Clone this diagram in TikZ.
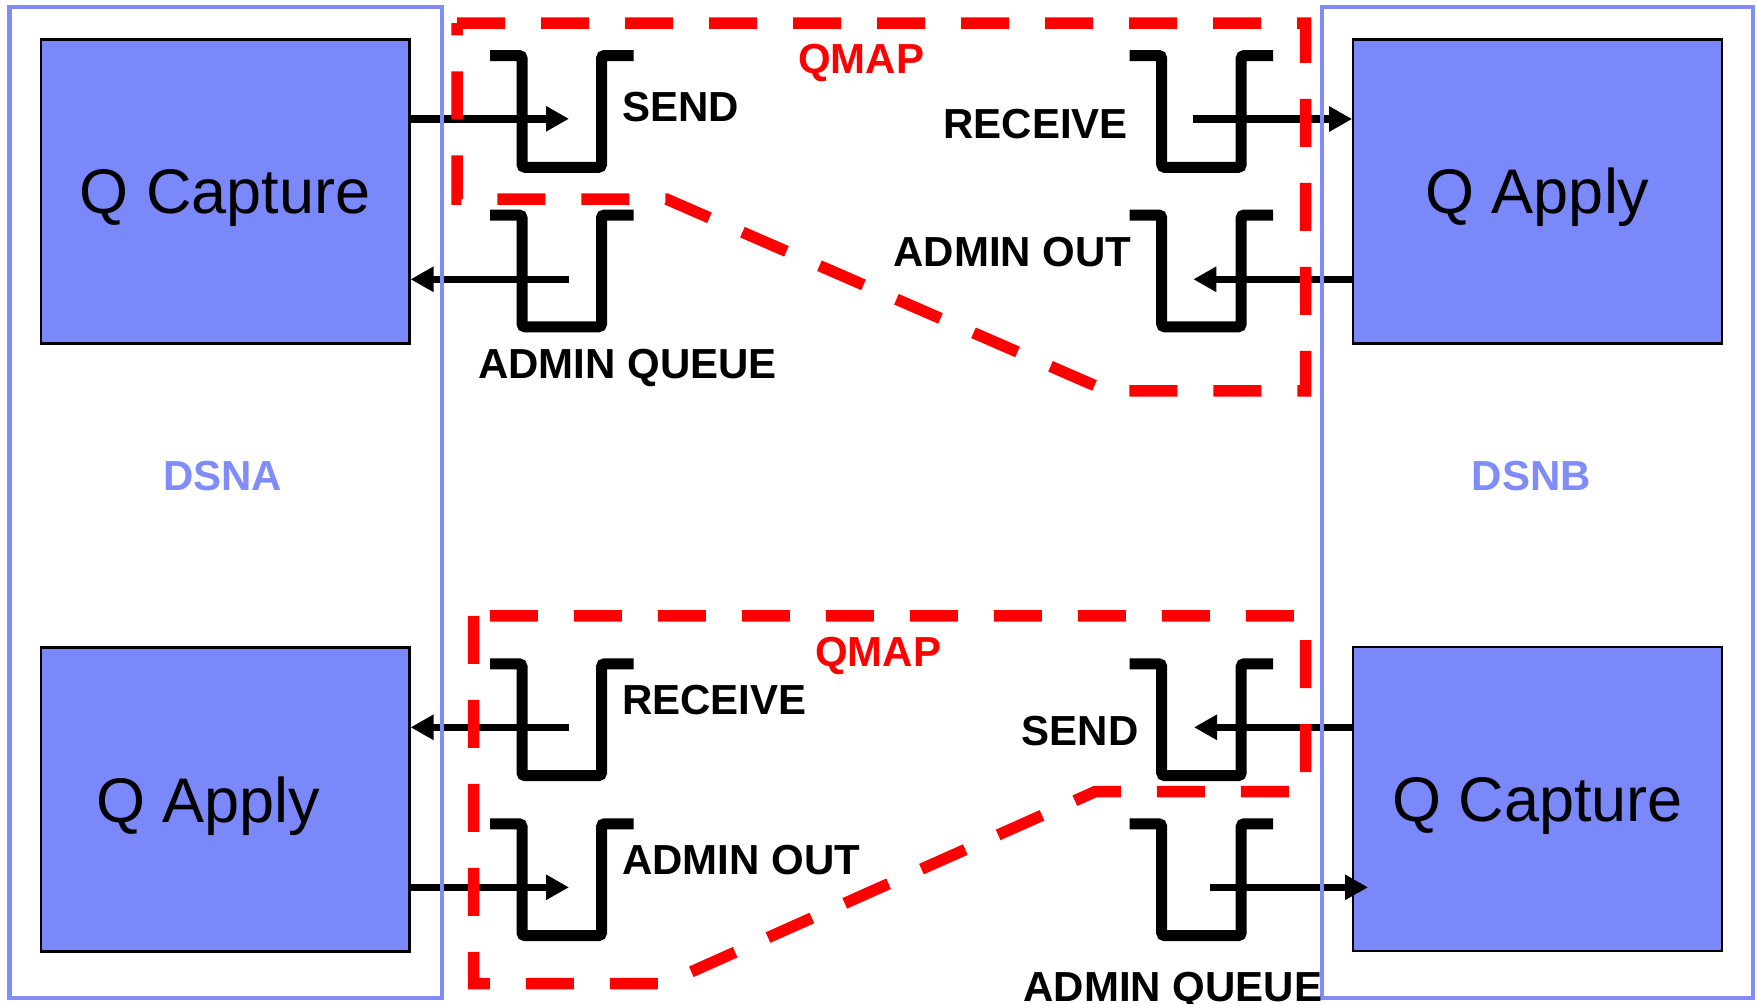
\documentclass[tikz,border=0pt]{standalone}
\usepackage{fontspec}
\setmainfont{Liberation Sans}
\usetikzlibrary{arrows.meta}
\definecolor{boxblue}{RGB}{122,136,250}
\definecolor{frameblue}{RGB}{128,140,250}
\definecolor{qred}{RGB}{255,0,0}
\tikzset{
  qbox/.style={draw=black, line width=2.3pt, fill=boxblue, minimum width=368.5pt, minimum height=304pt, inner sep=0pt, text height=45pt, text depth=0pt, font=\fontsize{63}{70}\selectfont},
  dsnframe/.style={draw=frameblue, line width=4.3pt, inner sep=0pt},
  lbl/.style={anchor=base west, inner sep=0pt, font=\fontsize{42}{48}\selectfont\bfseries},
  arr/.style={line width=7.5pt, -{Triangle[length=23pt,width=24pt]}},
  qmap/.style={draw=qred, line width=11.5pt, dash pattern=on 48pt off 36pt},
  queue/.pic={\draw[line width=11pt, rounded corners=3pt] (-32,0) -- (0,0) -- (0,111.8) -- (79.5,111.8) -- (79.5,0) -- (111.5,0);}
}
\begin{document}
\begin{tikzpicture}[x=1pt,y=-1pt]
\useasboundingbox (0,0) rectangle (1757,1004);
% application boxes
\node[qbox] (capA) at (225.2,191.4) {Q Capture};
\node[qbox] (appB) at (1537.5,191.4) {Q Apply};
\node[qbox] (appA) at (225.2,799.5) {Q Apply\hspace*{34pt}};
\node[qbox] (capB) at (1537.5,799) {Q Capture};
% queues
\pic (q1) at (522,55.5) {queue};
\pic (q2) at (522,215) {queue};
\pic (q3) at (1161.7,55.5) {queue};
\pic (q4) at (1161.7,215) {queue};
\pic (q5) at (522,663.8) {queue};
\pic (q6) at (522,823.8) {queue};
\pic (q7) at (1161.7,663.8) {queue};
\pic (q8) at (1161.7,823.8) {queue};
% arrows
\coordinate (t1) at (569,118.8);
\draw[arr] (capA.east |- t1) -- (t1);
\coordinate (s2) at (569,279.3);
\draw[arr] (s2) -- (capA.east |- s2);
\coordinate (s3) at (1193.3,119);
\draw[arr] (s3) -- (appB.west |- s3);
\coordinate (t4) at (1193.3,279.3);
\draw[arr] (appB.west |- t4) -- (t4);
\coordinate (s5) at (569,727.3);
\draw[arr] (s5) -- (appA.east |- s5);
\coordinate (t6) at (569,887.3);
\draw[arr] (appA.east |- t6) -- (t6);
\coordinate (t7) at (1194,727.3);
\draw[arr] (capB.west |- t7) -- (t7);
\coordinate (s8) at (1210,887.3);
\coordinate (t8) at (1368,887.3);
\draw[arr] (s8) -- (t8);
% QMAP outlines
\draw[qmap] (457.2,23.2) -- (1305.5,23.2) -- (1305.5,390.8) -- (1106.7,390.8) -- (666.7,199.2) -- (457.2,199.2) -- cycle;
\draw[qmap] (473.5,615.8) -- (473.5,983.5) -- (665,983.5) -- (1095,791.7) -- (1305.5,791.7) -- (1305.5,615.8) -- cycle;
% DSN frames
\node[dsnframe, minimum width=432.2pt, minimum height=991.1pt] (frameA) at (225.6,502.75) {};
\node[dsnframe, minimum width=431.6pt, minimum height=991.1pt] (frameB) at (1537.5,502.75) {};
% labels
\node[lbl] (l1) at (622,121.7) {SEND};
\node[lbl] (l2) at (478,378) {ADMIN QUEUE};
\node[lbl, text=qred] (m1) at (798,73) {QMAP};
\node[lbl] (l3) at (943.3,138.3) {RECEIVE};
\node[lbl] (l4) at (893.3,266.7) {ADMIN OUT};
\node[lbl] (l5) at (622,714) {RECEIVE};
\node[lbl] (l6) at (622,874) {ADMIN OUT};
\node[lbl, text=qred] (m2) at (815,666) {QMAP};
\node[lbl] (l7) at (1021.7,745) {SEND};
\node[lbl] (l8) at (1023.3,1001.7) {ADMIN QUEUE};
\node[lbl, text=frameblue] (dA) at (163,490) {DSNA};
\node[lbl, text=frameblue] (dB) at (1471.7,490) {DSNB};
\end{tikzpicture}
\end{document}
